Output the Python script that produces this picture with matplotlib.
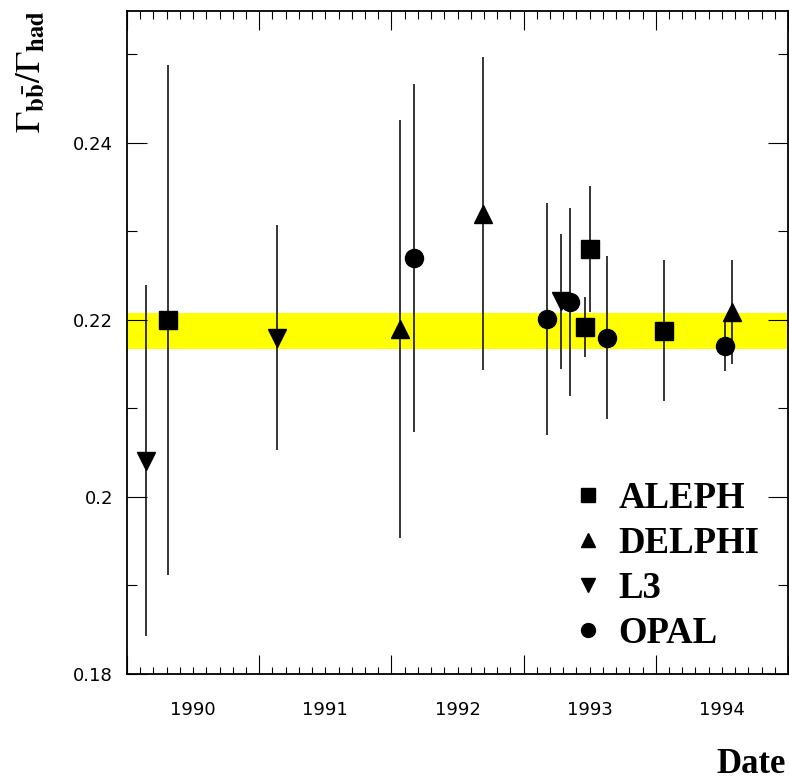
import numpy as np
import matplotlib
import matplotlib.pyplot as plt
from matplotlib.lines import Line2D
from matplotlib.ticker import MultipleLocator

plt.rcParams['mathtext.fontset'] = 'stix'

# data (date, Rb, error)
aleph_dates = [1989.81, 1992.967, 1993.0, 1993.56]
aleph_vals = [0.2200, 0.2192, 0.2280, 0.2188]
aleph_errs = [0.0288, 0.0034, 0.0071, 0.0080]

delphi_dates = [1991.565, 1992.19, 1994.08]
delphi_vals = [0.2190, 0.2320, 0.2209]
delphi_errs = [0.0236, 0.0177, 0.0059]

l3_dates = [1989.64, 1990.633, 1992.78]
l3_vals = [0.2041, 0.2180, 0.2221]
l3_errs = [0.0198, 0.0127, 0.0076]

opal_dates = [1991.67, 1992.68, 1992.85, 1993.13, 1994.02]
opal_vals = [0.2270, 0.2201, 0.2220, 0.2180, 0.2171]
opal_errs = [0.0197, 0.0131, 0.0106, 0.0092, 0.0029]

band_low, band_high = 0.2167, 0.2208

years = [1990, 1991, 1992, 1993, 1994]
year_labels = ['1990', '1991', '1992', '1993', '1994']
y_ticks = [0.18, 0.20, 0.22, 0.24]
y_ticklabels = ['0.18', '0.2', '0.22', '0.24']

fig = plt.figure(figsize=(7.89, 7.83), dpi=100)
ax = fig.add_axes([127 / 789, 109 / 783, 661 / 789, 663 / 783])

ax.axhspan(band_low, band_high, color='#ffff00', lw=0, zorder=1)

series = [
    (aleph_dates, aleph_vals, aleph_errs, 's', 'ALEPH'),
    (delphi_dates, delphi_vals, delphi_errs, '^', 'DELPHI'),
    (l3_dates, l3_vals, l3_errs, 'v', 'L3'),
    (opal_dates, opal_vals, opal_errs, 'o', 'OPAL'),
]
handles = []
for d, v, e, m, name in series:
    ax.errorbar(d, v, yerr=e, fmt=m, ms=13, color='k', mec='k',
                elinewidth=1.1, capsize=0, zorder=3)
    handles.append(Line2D([], [], marker=m, ls='none', color='k', ms=10, label=name))

ax.set_xlim(1989.5, 1989.5 + 661 / 133)
ax.set_ylim(0.18, 0.2549)

ax.set_xticks(np.arange(1989.5, 1995.0, 1.0))
ax.xaxis.set_minor_locator(MultipleLocator(0.1))
ax.set_yticks(y_ticks, y_ticklabels)
ax.yaxis.set_minor_locator(MultipleLocator(0.01))

ax.tick_params(axis='x', which='major', direction='in', length=13.7, width=0.8,
               top=True, labelbottom=False)
ax.tick_params(axis='x', which='minor', direction='in', length=5.4, width=0.8, top=True)
ax.tick_params(axis='y', which='major', direction='in', length=14.4, width=0.8,
               right=True, labelsize=13, pad=10)
ax.tick_params(axis='y', which='minor', direction='in', length=7.2, width=0.8, right=True)
for s in ax.spines.values():
    s.set_linewidth(1.3)

for yr, lab in zip(years, year_labels):
    ax.text(yr, -0.040, lab, transform=ax.get_xaxis_transform(),
            ha='center', va='top', fontsize=13)

ax.legend(handles=handles, loc='upper left', bbox_to_anchor=(0.6726, 0.291),
          frameon=False, borderpad=0, borderaxespad=0, handlelength=0.9,
          handletextpad=0.37, labelspacing=0.27,
          prop={'family': 'Liberation Serif', 'weight': 'bold', 'size': 26.5})

fig.text(13 / 789, 1 - 10 / 783, r'$\Gamma_{\mathbf{b\bar{b}}}/\Gamma_{\mathbf{had}}$',
         rotation=90, ha='left', va='top', fontsize=25.5)
fig.text(786 / 789, 2 / 783, 'Date', ha='right', va='bottom', fontsize=25,
         fontweight='bold', family='Liberation Serif')

fig.savefig('out.png', dpi=100)
